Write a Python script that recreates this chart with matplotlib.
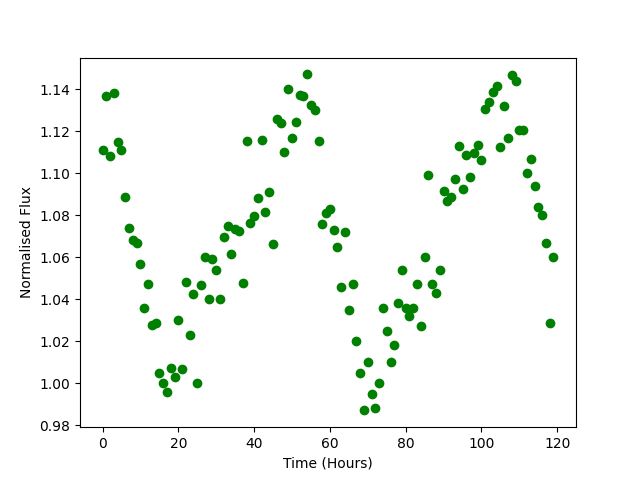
import numpy as np
import matplotlib
matplotlib.use("Agg")
import matplotlib.pyplot as plt

# Hourly samples, 0 to 119 h
time = np.arange(120)

# Normalised flux
flux = [
    1.111, 1.137, 1.108, 1.138, 1.115, 1.111, 1.0886, 1.074, 1.068, 1.0667,
    1.0567, 1.036, 1.047, 1.0276, 1.0286, 1.005, 1.000, 0.996, 1.007, 1.003,
    1.030, 1.0067, 1.048, 1.023, 1.0424, 1.000, 1.0467, 1.0601, 1.0403, 1.059,
    1.0537, 1.040, 1.0694, 1.0748, 1.0614, 1.0733, 1.0727, 1.0476, 1.1154, 1.0765,
    1.0794, 1.088, 1.116, 1.0813, 1.091, 1.0662, 1.1258, 1.1241, 1.1103, 1.140,
    1.117, 1.1243, 1.1373, 1.1367, 1.1471, 1.1327, 1.130, 1.1154, 1.076, 1.081,
    1.083, 1.073, 1.065, 1.046, 1.072, 1.035, 1.047, 1.020, 1.005, 0.987,
    1.010, 0.995, 0.988, 1.000, 1.036, 1.025, 1.010, 1.018, 1.038, 1.054,
    1.036, 1.032, 1.036, 1.047, 1.027, 1.060, 1.099, 1.047, 1.043, 1.054,
    1.0916, 1.0868, 1.0889, 1.0973, 1.1129, 1.0925, 1.1086, 1.0981, 1.1097, 1.1135,
    1.1063, 1.1305, 1.134, 1.1386, 1.1416, 1.1124, 1.132, 1.1167, 1.1468, 1.1441,
    1.1205, 1.1205, 1.100, 1.1068, 1.0938, 1.084, 1.080, 1.0668, 1.0286, 1.060,
]

fig, ax = plt.subplots(figsize=(6.4, 4.8), dpi=100)

ax.plot(time, flux, "go")

ax.set_xlabel("Time (Hours)")
ax.set_ylabel("Normalised Flux")

fig.savefig("out.png")
